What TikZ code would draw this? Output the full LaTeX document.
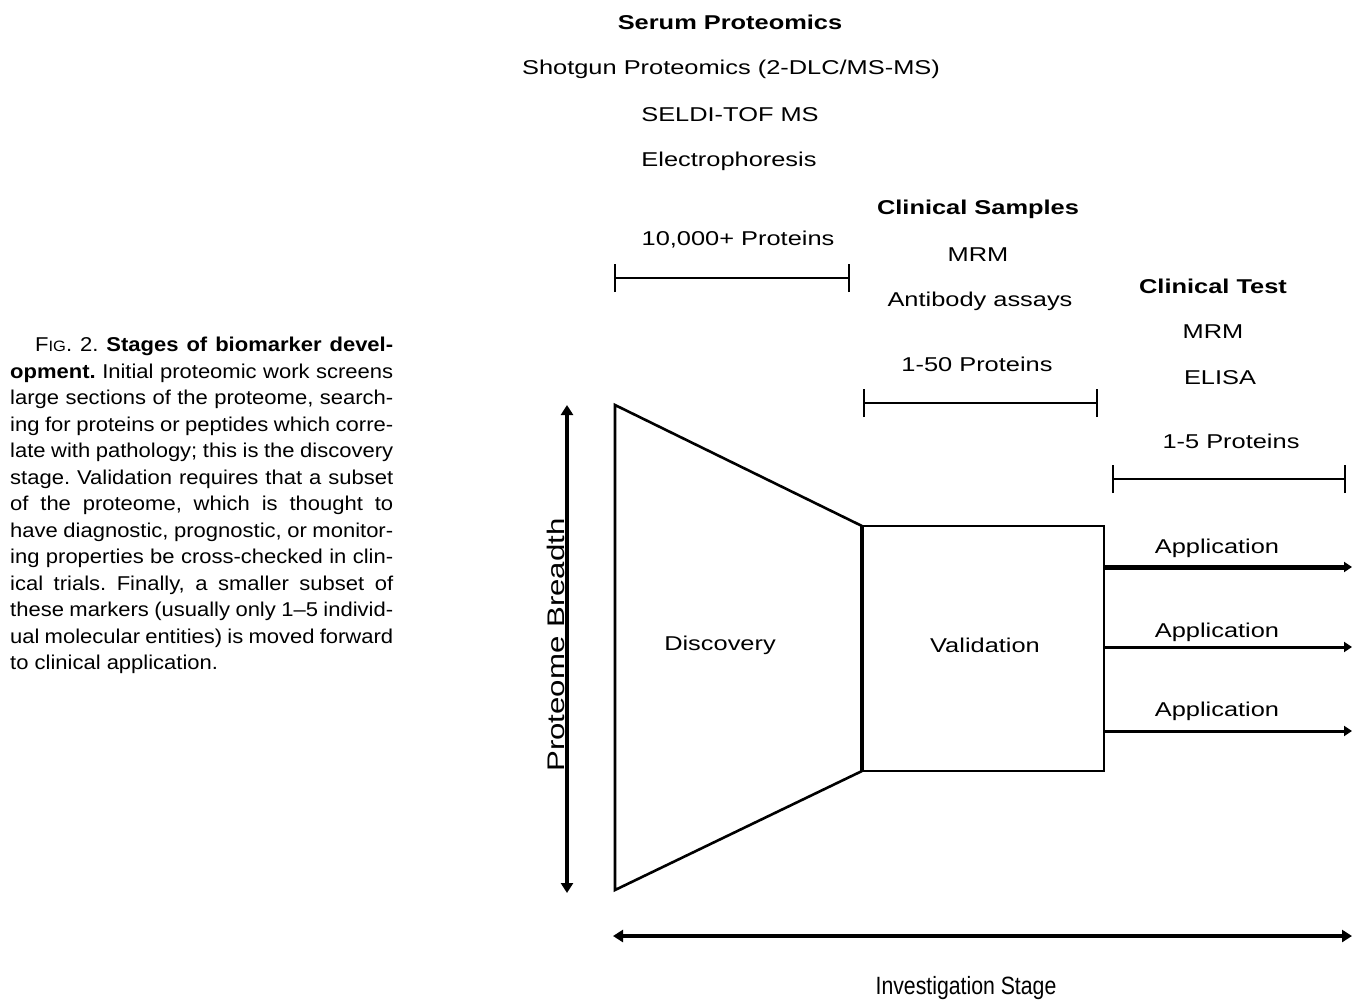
\documentclass[tikz,border=0pt]{standalone}
\usepackage{fontspec}
\setmainfont{Liberation Sans}
\newfontfamily\widef[FakeStretch=1.27]{Liberation Sans}
\newfontfamily\narrowf[FakeStretch=0.85]{Liberation Sans}
\newfontfamily\pbf[FakeStretch=1.3]{Liberation Sans}
\newfontfamily\capf[FakeStretch=1.1]{Liberation Sans}
\usetikzlibrary{arrows.meta}
\frenchspacing
\begin{document}
\begin{tikzpicture}[x=1pt,y=-1pt,
  lbl/.style={font=\widef\fontsize{20}{24}\selectfont, inner sep=0pt},
  blbl/.style={font=\widef\fontsize{20}{24}\selectfont\bfseries, inner sep=0pt},
  edge/.style={line width=2.6pt, line join=miter},
  brk/.style={line width=2pt},
  dbl/.style={line width=3.2pt, {Triangle[length=10pt,width=12pt]}-{Triangle[length=10pt,width=12pt]}},
  app/.style={line width=3pt, -{Triangle[length=8pt,width=10pt]}}
]
\useasboundingbox (0,0) rectangle (1359,1004);

% caption
\def\jl#1{\makebox[383pt][s]{#1}\\}
\node[anchor=north west, inner sep=0pt, align=left, font=\capf\fontsize{20}{26.5}\selectfont] (cap) at (10,337) {%
\hspace*{25pt}\makebox[358pt][s]{F{\fontsize{15}{15}\selectfont IG}. 2. \textbf{Stages of biomarker devel-}}\\
\jl{\textbf{opment.} Initial proteomic work screens}
\jl{large sections of the proteome, search-}
\jl{ing for proteins or peptides which corre-}
\jl{late with pathology; this is the discovery}
\jl{stage. Validation requires that a subset}
\jl{of the proteome, which is thought to}
\jl{have diagnostic, prognostic, or monitor-}
\jl{ing properties be cross-checked in clin-}
\jl{ical trials. Finally, a smaller subset of}
\jl{these markers (usually only 1–5 individ-}
\jl{ual molecular entities) is moved forward}
to clinical application.};

% column 1 texts
\node[blbl] (serum) at (730,22) {Serum Proteomics};
\node[lbl] (shot) at (731,69) {Shotgun Proteomics (2-DLC/MS-MS)};
\node[lbl] (seldi) at (730,115) {SELDI-TOF MS};
\node[lbl] (elec) at (729,161) {Electrophoresis};
\node[lbl] (p1) at (738,240) {10,000+ Proteins};

% column 2 texts
\node[blbl] (clins) at (978,209) {Clinical Samples};
\node[lbl] (mrm1) at (978,255) {MRM};
\node[lbl] (anti) at (980,301) {Antibody assays};
\node[lbl] (p2) at (977,364) {1-50 Proteins};

% column 3 texts
\node[blbl] (clint) at (1213,286) {Clinical Test};
\node[lbl] (mrm2) at (1213,332) {MRM};
\node[lbl] (elisa) at (1220,378) {ELISA};
\node[lbl] (p3) at (1231,441) {1-5 Proteins};

% brackets
\coordinate (b1l) at (615,278); \coordinate (b1r) at (849,278);
\coordinate (b2l) at (864,403); \coordinate (b2r) at (1097,403);
\coordinate (b3l) at (1113,479); \coordinate (b3r) at (1345,479);
\foreach \l/\r in {b1l/b1r,b2l/b2r,b3l/b3r}{
  \draw[brk] (\l) -- (\r);
  \draw[brk] ([yshift=-14pt]\l) -- ([yshift=14pt]\l);
  \draw[brk] ([yshift=-14pt]\r) -- ([yshift=14pt]\r);
}

% funnel
\coordinate (tl) at (615,405);
\coordinate (bl) at (615,890);
\coordinate (tr) at (862,526);
\coordinate (br) at (862,771);
\coordinate (vtr) at (1104,526);
\coordinate (vbr) at (1104,771);
\draw[edge] (tr) -- (tl) -- (bl) -- (br);
\draw[line width=4pt] (tr) -- (br);
\draw[edge] (tr) -- (vtr) -- (vbr) -- (br);
\node[lbl] (disc) at (720,645) {Discovery};
\node[lbl] (val) at (985,645) {Validation};

% applications
\coordinate (a1s) at (1104,567); \coordinate (a1e) at (1352,567);
\coordinate (a2s) at (1104,647); \coordinate (a2e) at (1352,647);
\coordinate (a3s) at (1104,731); \coordinate (a3e) at (1352,731);
\draw[app, line width=5pt] (a1s) -- (a1e);
\draw[app] (a2s) -- (a2e);
\draw[app] (a3s) -- (a3e);
\node[lbl] (ap1) at (1217,548) {Application};
\node[lbl] (ap2) at (1217,632) {Application};
\node[lbl] (ap3) at (1217,711) {Application};

% axes
\coordinate (yt) at (567,405); \coordinate (yb) at (567,893);
\draw[dbl] (yt) -- (yb);
\node[inner sep=0pt, font=\pbf\fontsize{24}{28}\selectfont, rotate=90] (pb) at (556,645) {Proteome Breadth};
\coordinate (xl) at (613,936); \coordinate (xr) at (1352,936);
\draw[dbl] (xl) -- (xr);
\node[inner sep=0pt, font=\narrowf\fontsize{25}{28}\selectfont] (inv) at (966,988) {Investigation Stage};
\end{tikzpicture}
\end{document}
